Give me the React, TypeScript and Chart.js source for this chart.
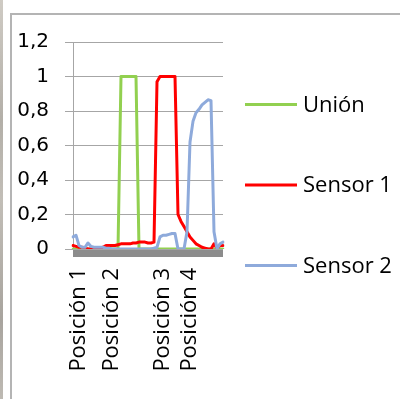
import React, { useEffect, useRef } from 'react';
import { Chart, registerables } from 'chart.js';

Chart.register(...registerables);

const seriesNames = ['Unión', 'Sensor 1', 'Sensor 2'];
const seriesColors = ['#92D050', '#FF0000', '#8EAADB'];
const positionLabels = ['Posición 1', 'Posición 2', 'Posición 3', 'Posición 4'];
const positionIndex = [1, 12, 29, 38];

const union = [
  0, 0, 0, 0, 0, 0, 0, 0, 0, 0,
  0, 0, 0, 0, 0, 0, 1, 1, 1, 1,
  1, 1, 0, 0, 0, 0, 0, 0, 0, 0,
  0, 0, 0, 0, 0, 0, 0, 0, 0, 0,
  0, 0, 0, 0, 0, 0, 0, 0, 0, 0, 0,
];

const sensor1 = [
  0.02, 0.015, 0.01, 0.01, 0.005, 0, 0, 0, 0, 0.005,
  0.01, 0.02, 0.02, 0.02, 0.02, 0.025, 0.03, 0.03, 0.03, 0.03,
  0.035, 0.035, 0.04, 0.04, 0.04, 0.035, 0.035, 0.04, 0.97, 1,
  1, 1, 1, 1, 1, 0.2, 0.16, 0.13, 0.1, 0.07,
  0.05, 0.03, 0.02, 0.01, 0.005, 0, 0, 0.03, 0.005, 0.02, 0.02,
];

const sensor2 = [
  0.07, 0.08, 0.02, 0.01, 0.01, 0.035, 0.015, 0.01, 0.01, 0.01,
  0.01, 0.005, 0.005, 0, 0, 0, 0, 0, 0, 0,
  0, 0, 0, 0, 0, 0, 0, 0.005, 0.01, 0.07,
  0.08, 0.08, 0.085, 0.09, 0.09, 0, 0, 0, 0.1, 0.62,
  0.74, 0.79, 0.81, 0.835, 0.85, 0.865, 0.86, 0.1, 0, 0.03, 0.04,
];

const yMin = 0;
const yMax = 1.2;
const yStep = 0.2;

const categories = union.map((_, i) => {
  const k = positionIndex.indexOf(i);
  return k >= 0 ? positionLabels[k] : '';
});

const FONT = 'Open Sans';

const bandPlugin = {
  id: 'floorBand',
  beforeDatasetsDraw(chart: any) {
    const { ctx, chartArea } = chart;
    ctx.save();
    ctx.fillStyle = '#8C8C8C';
    ctx.fillRect(chartArea.left, chartArea.bottom + 1, chartArea.right - chartArea.left, 7);
    ctx.restore();
  },
};

const legendPlugin = {
  id: 'sideLegend',
  afterDraw(chart: any) {
    const { ctx } = chart;
    ctx.save();
    chart.data.datasets.forEach((ds: any, i: number) => {
      const y = 104.5 + i * 80.5;
      ctx.strokeStyle = ds.borderColor;
      ctx.lineWidth = 3;
      ctx.lineCap = 'butt';
      ctx.beginPath();
      ctx.moveTo(245, y);
      ctx.lineTo(297, y);
      ctx.stroke();
      ctx.fillStyle = '#000';
      ctx.font = `22px "${FONT}"`;
      ctx.textBaseline = 'middle';
      ctx.textAlign = 'left';
      ctx.fillText(ds.label, 303, y + 1);
    });
    ctx.restore();
  },
};

export default function App() {
  const ref = useRef<HTMLCanvasElement>(null);
  useEffect(() => {
    document.body.style.margin = '0';
    const canvas = ref.current!;
    const data = [union, sensor1, sensor2];
    const chart = new Chart(canvas, {
      type: 'line',
      data: {
        labels: categories,
        datasets: seriesNames.map((name, i) => ({
          label: name,
          data: data[i],
          borderColor: seriesColors[i],
          backgroundColor: seriesColors[i],
          borderWidth: 3,
          pointRadius: 0,
          tension: 0,
          borderJoinStyle: 'round' as const,
          borderCapStyle: 'round' as const,
          order: 2 - i,
        })),
      },
      options: {
        responsive: false,
        animation: false,
        devicePixelRatio: 1,
        layout: { padding: { left: 0, top: 42, right: 177, bottom: 0 } },
        plugins: {
          legend: { display: false },
          tooltip: { enabled: false },
        },
        scales: {
          x: {
            type: 'category',
            offset: false,
            grid: { display: false, drawTicks: false },
            border: { display: false },
            ticks: {
              autoSkip: false,
              maxRotation: 90,
              minRotation: 90,
              padding: 19,
              labelOffset: 3,
              color: '#000',
              font: { family: FONT, size: 22 },
            },
            afterFit(scale: any) {
              scale.height = 150;
            },
          },
          y: {
            min: yMin,
            max: yMax,
            grid: { color: '#A6A6A6', lineWidth: 1, tickLength: 8, drawTicks: true },
            border: { display: true, color: '#A6A6A6', width: 1 },
            ticks: {
              stepSize: yStep,
              padding: 16,
              color: '#000',
              font: { family: 'DejaVu Sans', size: 20 },
              callback: (v: any) => String(Math.round(Number(v) * 10) / 10).replace('.', ','),
            },
            afterFit(scale: any) {
              scale.width = 73;
            },
          },
        },
      },
      plugins: [bandPlugin, legendPlugin],
    });
    return () => chart.destroy();
  }, []);

  return (
    <div style={{ position: 'fixed', left: 0, top: 0, width: 400, height: 399, overflow: 'hidden', background: '#fff' }}>
      <div style={{ position: 'absolute', left: 0, top: 0, width: 3, height: 399, background: 'linear-gradient(#cfcbc4, #b3afa8 30%, #c2beb7 50%, #a8a49e 80%, #bebab3)' }} />
      <div style={{ position: 'absolute', left: 10, top: 13, width: 400, height: 400, borderTop: '2px solid #B4B4B4', borderLeft: '2px solid #B4B4B4', boxSizing: 'border-box' }} />
      <canvas ref={ref} width={400} height={399} style={{ position: 'absolute', left: 0, top: 0, width: 400, height: 399 }} />
    </div>
  );
}
